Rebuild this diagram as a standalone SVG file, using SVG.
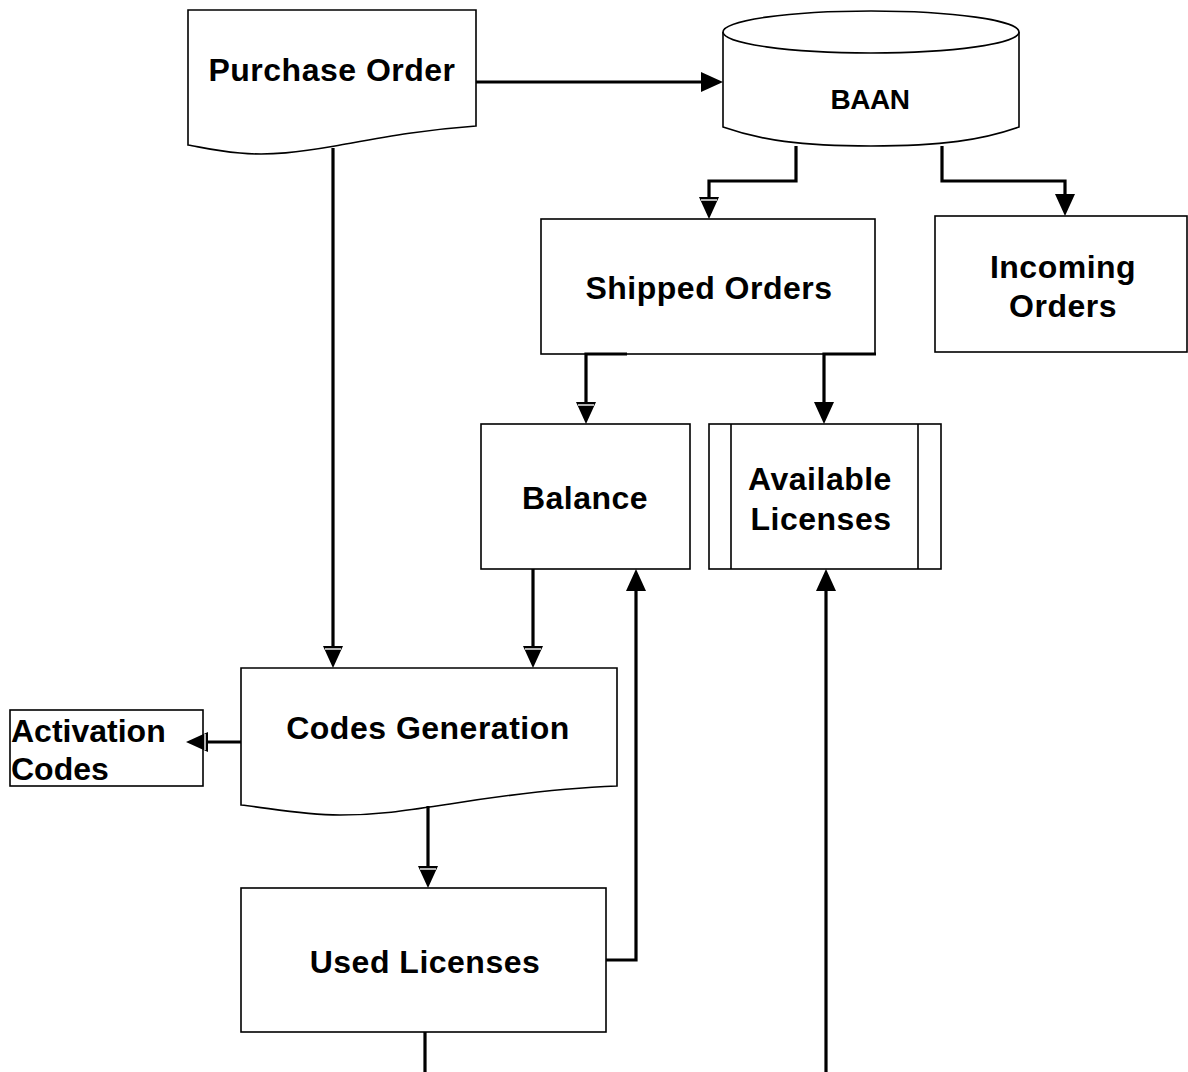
<svg xmlns="http://www.w3.org/2000/svg" width="1188" height="1072" viewBox="0 0 1188 1072">
<defs>
<style>
.shape{fill:#fff;stroke:#000;stroke-width:1.6}
.conn{fill:none;stroke:#000;stroke-width:3.2}
.lbl{font-family:"Liberation Sans",Arial,sans-serif;font-weight:bold;font-size:32px;letter-spacing:0.5px;fill:#000;text-anchor:middle}
</style>
<marker id="arrow" markerUnits="userSpaceOnUse" markerWidth="23" markerHeight="22" viewBox="0 0 23 22" refX="0" refY="11" orient="auto" overflow="visible">
<path d="M0,1 L22,11 L0,21 z" fill="#000"/>
</marker>
<marker id="arrow2" markerUnits="userSpaceOnUse" markerWidth="23" markerHeight="22" viewBox="0 0 23 22" refX="0" refY="11" orient="auto" overflow="visible">
<path d="M0,1 L22,11 L0,21 z" fill="#000"/>
<path d="M3,3 L3,19" stroke="#fff" stroke-width="1.4"/>
</marker>
</defs>
<rect width="1188" height="1072" fill="#fff"/>

<g id="purchase-order">
<path class="shape" d="M188,10 H476 V126 C420,130 380,138 335,146 C300,152 270,156 240,153 C215,151 200,147 188,145 Z"/>
<text class="lbl" x="332" y="81">Purchase Order</text>
</g>

<g id="baan">
<path class="shape" d="M723,32 V127 C760,140 800,146 871,146 C942,146 982,140 1019,127 V32"/>
<ellipse class="shape" cx="871" cy="32" rx="148" ry="21"/>
<text class="lbl" x="870" y="109" style="font-size:28px;letter-spacing:-0.5px">BAAN</text>
</g>

<g id="shipped-orders">
<rect class="shape" x="541" y="219" width="334" height="135"/>
<text class="lbl" x="709" y="299">Shipped Orders</text>
</g>

<g id="incoming-orders">
<rect class="shape" x="935" y="216" width="252" height="136"/>
<text class="lbl" x="1063" y="278">Incoming</text>
<text class="lbl" x="1063" y="317">Orders</text>
</g>

<g id="balance">
<rect class="shape" x="481" y="424" width="209" height="145"/>
<text class="lbl" x="585" y="509">Balance</text>
</g>

<g id="available-licenses">
<rect class="shape" x="709" y="424" width="232" height="145"/>
<path class="shape" d="M731,424 V569 M918,424 V569"/>
<text class="lbl" x="820" y="490">Available</text>
<text class="lbl" x="821" y="530">Licenses</text>
</g>

<g id="codes-generation">
<path class="shape" d="M241,668 H617 V786 C560,788 500,796 450,804 C410,810 380,815 340,815 C300,815 270,808 241,805 Z"/>
<text class="lbl" x="428" y="739">Codes Generation</text>
</g>

<g id="activation-codes">
<rect class="shape" x="10" y="710" width="193" height="76"/>
<text class="lbl" x="11" y="742" style="text-anchor:start;letter-spacing:0">Activation</text>
<text class="lbl" x="11" y="780" style="text-anchor:start;letter-spacing:0">Codes</text>
</g>

<g id="used-licenses">
<rect class="shape" x="241" y="888" width="365" height="144"/>
<text class="lbl" x="425" y="973">Used Licenses</text>
</g>

<g id="connectors">
<path class="conn" d="M476,82 H701" marker-end="url(#arrow)"/>
<path class="conn" d="M796,146 V181 H709 V197" marker-end="url(#arrow2)"/>
<path class="conn" d="M942,146 V181 H1065 V194" marker-end="url(#arrow)"/>
<path class="conn" d="M627,354 H586 V402" marker-end="url(#arrow2)"/>
<path class="conn" d="M876,354 H824 V402" marker-end="url(#arrow)"/>
<path class="conn" d="M533,569 V646" marker-end="url(#arrow2)"/>
<path class="conn" d="M333,148 V646" marker-end="url(#arrow2)"/>
<path class="conn" d="M241,742 H208" marker-end="url(#arrow2)"/>
<path class="conn" d="M428,806 V866" marker-end="url(#arrow2)"/>
<path class="conn" d="M606,960 H636 V591" marker-end="url(#arrow)"/>
<path class="conn" d="M425,1032 V1072"/>
<path class="conn" d="M826,1072 V591" marker-end="url(#arrow)"/>
</g>
</svg>
